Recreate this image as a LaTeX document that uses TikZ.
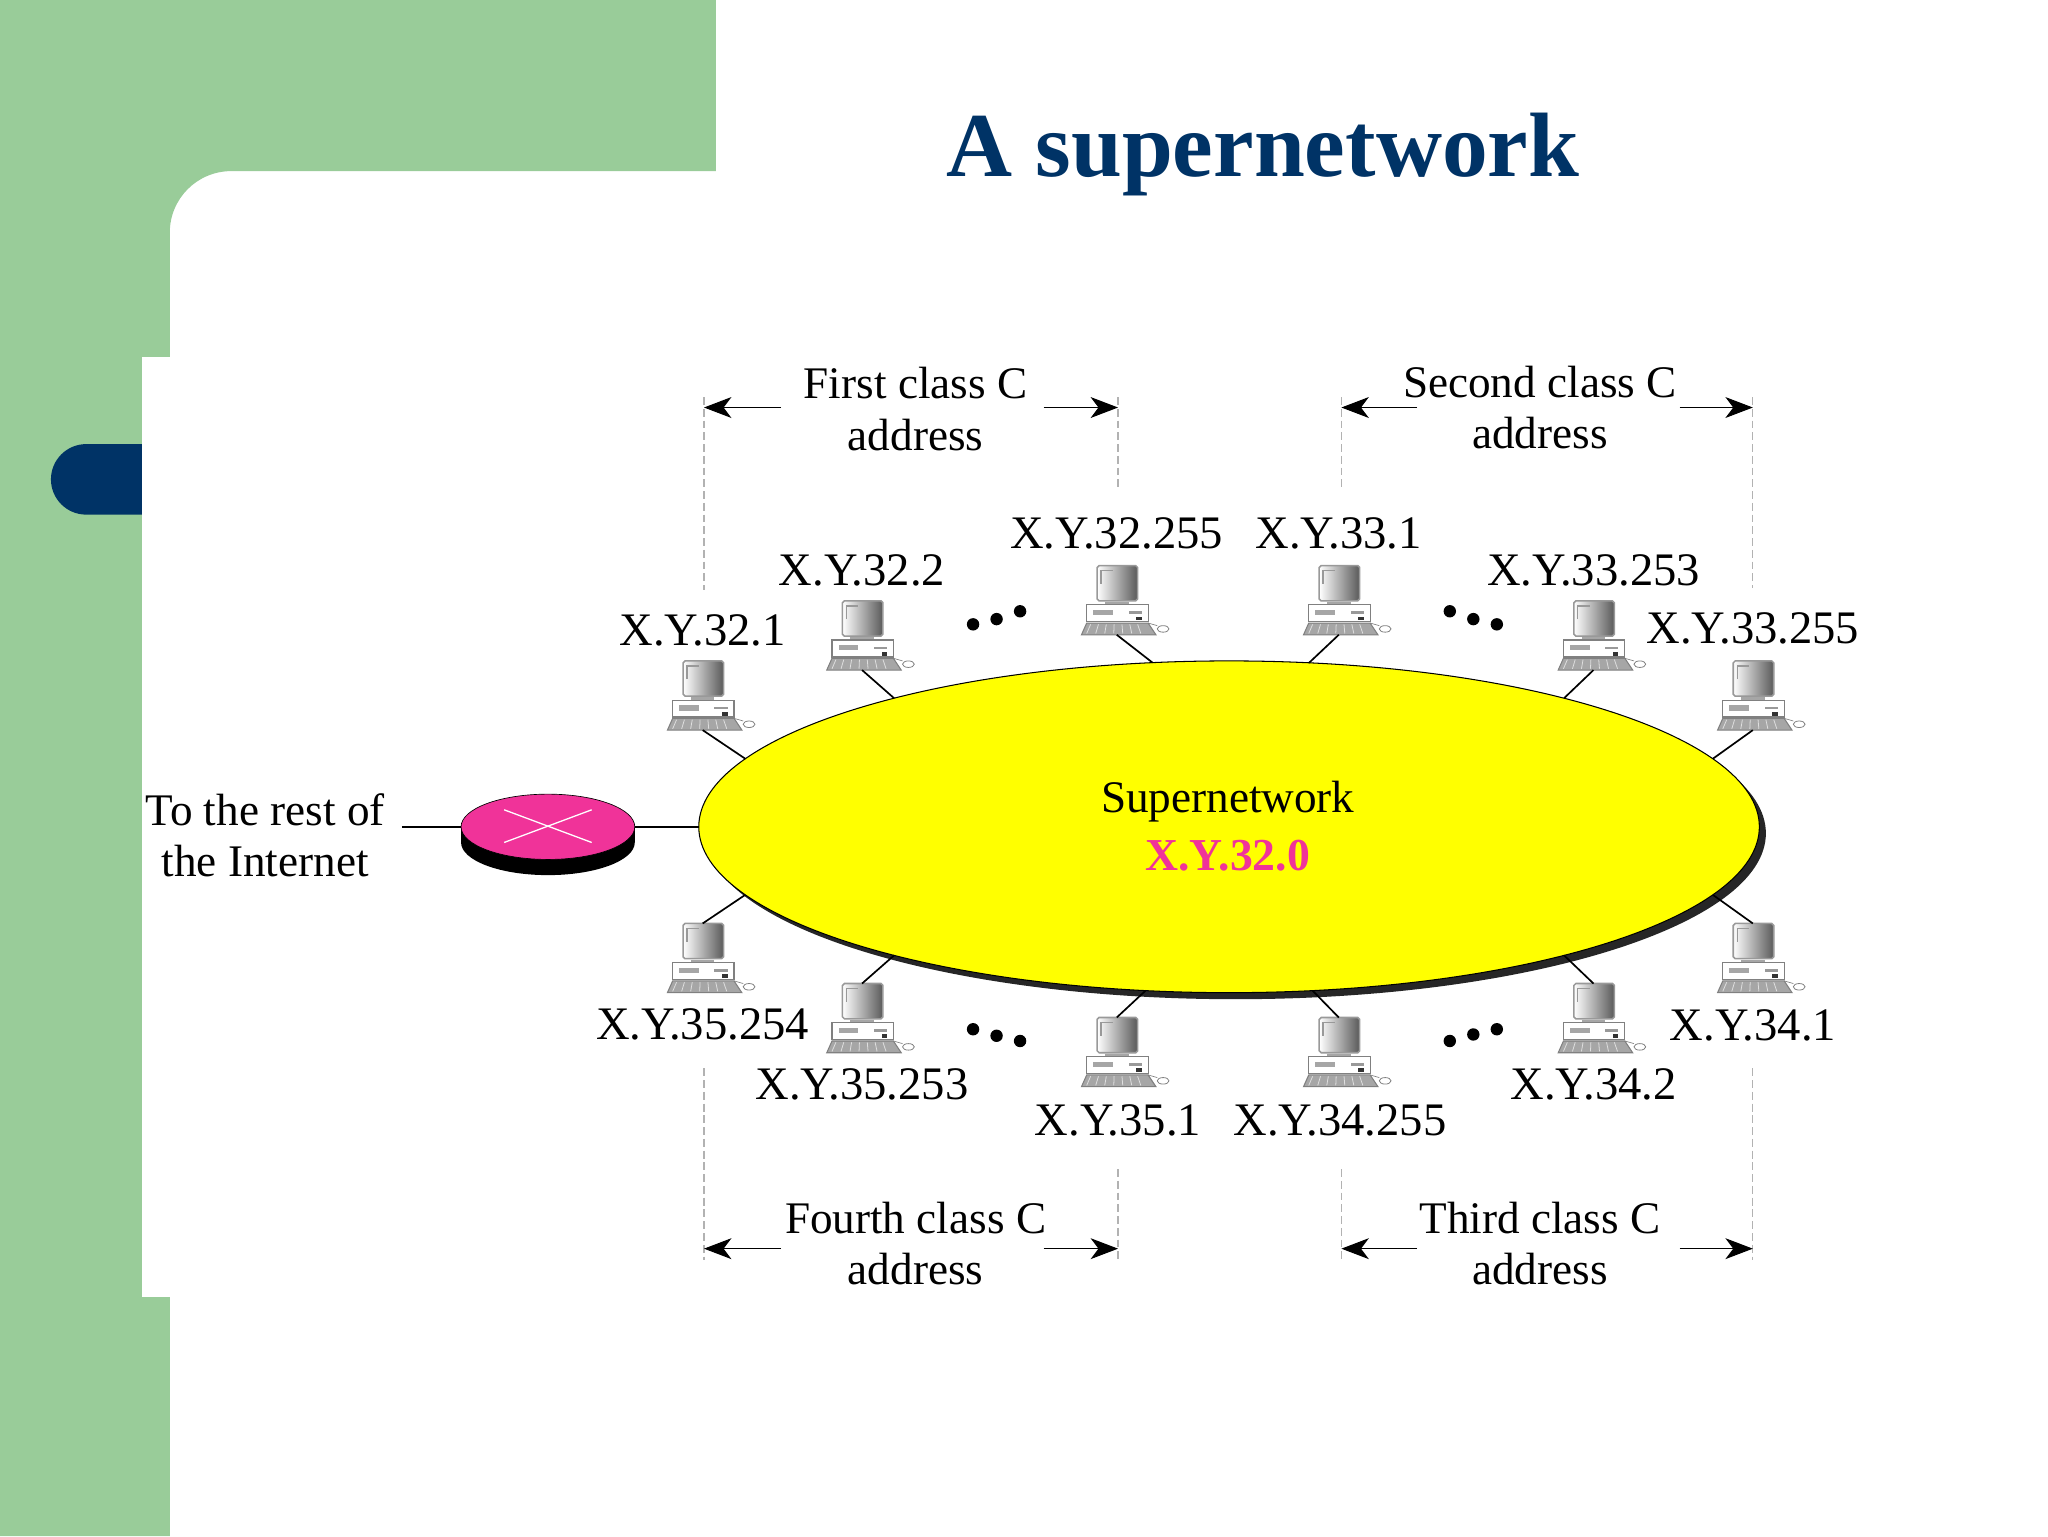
\documentclass[tikz,border=0pt]{standalone}
\usepackage{xcolor}
\usepackage{fontspec}
\setmainfont{Liberation Serif}
\usetikzlibrary{shapes.geometric,arrows.meta,positioning,calc}
\definecolor{slidegreen}{HTML}{99CC99}
\definecolor{navy}{HTML}{003366}
\definecolor{hotpink}{HTML}{F03399}
\definecolor{netyellow}{HTML}{FFFF00}
\tikzset{
    lbl/.style={inner sep=0pt, align=center, font=\fontsize{34.6}{39.5}\selectfont},
    addr/.style={inner sep=0pt, font=\fontsize{35.7}{40}\selectfont},
    dimdash/.style={gray!60, line width=1pt, dash pattern=on 6pt off 3pt},
    dimarrow/.style={line width=0.8pt, -{Stealth[length=21pt,width=16pt,inset=6pt]}},
    wire/.style={line width=1.3pt},
    dotmark/.style={circle, fill=black, inner sep=0pt, minimum size=9.5pt},
    pc/.pic={
        \draw[gray, fill=gray!70, line width=0.8pt] (-23,17) -- (24,17) -- (30,26) -- (-27,26) -- cycle;
        \foreach \k in {-20,-14,...,20} {\draw[gray!25, line width=0.6pt] (\k,18) -- (1.15*\k,25);}
        \draw[gray!80, shading=axis, left color=white, right color=black!65, rounded corners=1.5pt, line width=1.2pt] (-15,-27) rectangle (16,0);
        \draw[gray!80, line width=1pt] (-12,-13) -- (-12,-23) -- (-3,-23);
        \fill[gray!70] (-9,1) rectangle (9,3);
        \draw[gray, fill=white, line width=0.9pt] (-23,3) rectangle (24,16);
        \fill[gray!70] (-18,7) rectangle (-3,11);
        \fill[gray!80] (9,8) rectangle (19,10);
        \fill[black!80] (15,12) rectangle (19,15);
        \draw[gray, line width=0.5pt] (24,17) -- (31,19);
        \draw[gray, fill=white, line width=0.6pt] (35.5,21.5) ellipse[x radius=4.5, y radius=2.5];
        \coordinate (-top) at (0,-27);
        \coordinate (-bot) at (0,26);
    }
}
\begin{document}
\begin{tikzpicture}[x=1pt, y=-1pt]
    \useasboundingbox (0,0) rectangle (1568,1176);
    \fill[white] (0,0) rectangle (1568,1176);
    \fill[slidegreen] (0,0) -- (548,0) -- (548,131) [rounded corners=47pt] -- (130,131) [sharp corners] -- (130,1176) -- (0,1176) -- cycle;
    \fill[navy] (109,340) [rounded corners=27pt] -- (39,340) -- (39,394) [sharp corners] -- (109,394) -- cycle;
    \fill[white] (109,273) rectangle (131,993);

    \node[inner sep=0pt, text=navy, font=\fontsize{70}{80}\selectfont\bfseries] (title) at (967,118) {A supernetwork};

    \node[ellipse, fill=black!85, minimum width=812pt, minimum height=254pt, inner sep=0pt, outer sep=0pt] (shadow) at (946,638) {};
    \node[ellipse, draw, fill=netyellow, line width=0.8pt, minimum width=812pt, minimum height=254pt, inner sep=0pt, outer sep=0pt] (net) at (941,633) {};
    \node[lbl] (netname) at (940,614) {Supernetwork};
    \node[lbl, text=hotpink, font=\fontsize{35}{40}\selectfont\bfseries] (netaddr) at (940,655) {X.Y.32.0};

    \node[ellipse, fill=black, minimum width=133pt, minimum height=50pt, inner sep=0pt] (routerbase) at (419.5,645) {};
    \fill[black] (353,633) rectangle (486,645);
    \node[ellipse, draw=black, fill=hotpink, line width=0.5pt, minimum width=133pt, minimum height=50pt, inner sep=0pt, outer sep=0pt] (router) at (419.5,633) {};
    \draw[white, line width=1pt] (386,620) -- (453,645);
    \draw[white, line width=1pt] (386,645) -- (453,620);
    \node[lbl, inner xsep=13pt] (rest) at (203,639.5) {To the rest of\\the Internet};
    \draw[wire] (rest.east |- router.west) -- (router.west);
    \draw[wire] (router.east) -- (net.west);

    \pic (pa) at (538,533) {pc};
    \pic (pb) at (660,487) {pc};
    \pic (pc) at (855,460) {pc};
    \pic (pd) at (1025,460) {pc};
    \pic (pe) at (1220,487) {pc};
    \pic (pf) at (1342,533) {pc};
    \pic (qa) at (538,734) {pc};
    \pic (qb) at (660,780) {pc};
    \pic (qc) at (855,806) {pc};
    \pic (qd) at (1025,806) {pc};
    \pic (qe) at (1220,780) {pc};
    \pic (qf) at (1342,734) {pc};

    \draw[wire] (pa-bot) -- (net.172);
    \draw[wire] (pb-bot) -- (net.159);
    \draw[wire] (pc-bot) -- (net.115);
    \draw[wire] (pd-bot) -- (net.64);
    \draw[wire] (pe-bot) -- (net.21);
    \draw[wire] (pf-bot) -- (net.8);
    \draw[wire] (qa-top) -- (net.188);
    \draw[wire] (qb-top) -- (net.201);
    \draw[wire] (qc-top) -- (net.243);
    \draw[wire] (qd-top) -- (net.297);
    \draw[wire] (qe-top) -- (net.339);
    \draw[wire] (qf-top) -- (net.352);

    \node[addr] (la) at (538,483) {X.Y.32.1};
    \node[addr] (lb) at (660,437) {X.Y.32.2};
    \node[addr] (lc) at (855,408) {X.Y.32.255};
    \node[addr] (ld) at (1025,408) {X.Y.33.1};
    \node[addr] (le) at (1220,437) {X.Y.33.253};
    \node[addr] (lf) at (1342,481) {X.Y.33.255};
    \node[addr] (ma) at (538,784) {X.Y.35.254};
    \node[addr] (mb) at (660,830) {X.Y.35.253};
    \node[addr] (mc) at (856,858) {X.Y.35.1};
    \node[addr] (md) at (1026,858) {X.Y.34.255};
    \node[addr] (me) at (1220,830) {X.Y.34.2};
    \node[addr] (mf) at (1342,785) {X.Y.34.1};

    \node[dotmark] (d1) at (745,478) {};
    \node[dotmark] (d2) at (763,474) {};
    \node[dotmark] (d3) at (781,468) {};
    \node[dotmark] (d4) at (1110,468) {};
    \node[dotmark] (d5) at (1128,474) {};
    \node[dotmark] (d6) at (1146,478) {};
    \node[dotmark] (d7) at (745,788) {};
    \node[dotmark] (d8) at (763,793) {};
    \node[dotmark] (d9) at (781,797) {};
    \node[dotmark] (d10) at (1110,797) {};
    \node[dotmark] (d11) at (1128,792) {};
    \node[dotmark] (d12) at (1146,788) {};

    \node[lbl] (first) at (701,313) {First class C\\address};
    \node[lbl] (second) at (1179,312) {Second class C\\address};
    \node[lbl] (fourth) at (701,952) {Fourth class C\\address};
    \node[lbl] (third) at (1179,952) {Third class C\\address};

    \coordinate (ta) at (539,304);
    \coordinate (tb) at (539,452);
    \coordinate (tc) at (856,304);
    \coordinate (td) at (856,375);
    \coordinate (te) at (1027,304);
    \coordinate (tf) at (1027,375);
    \coordinate (tg) at (1342,304);
    \coordinate (th) at (1342,450);
    \coordinate (ba) at (539,818);
    \coordinate (bb) at (539,965);
    \coordinate (bc) at (856,895);
    \coordinate (bd) at (856,965);
    \coordinate (be) at (1027,895);
    \coordinate (bf) at (1027,965);
    \coordinate (bg) at (1342,818);
    \coordinate (bh) at (1342,965);
    \draw[dimdash] (ta) -- (tb);
    \draw[dimdash] (tc) -- (td);
    \draw[dimdash] (te) -- (tf);
    \draw[dimdash] (tg) -- (th);
    \draw[dimdash] (ba) -- (bb);
    \draw[dimdash] (bc) -- (bd);
    \draw[dimdash] (be) -- (bf);
    \draw[dimdash] (bg) -- (bh);

    \coordinate (s1) at (598,312);
    \coordinate (s2) at (799,312);
    \coordinate (s3) at (1085,312);
    \coordinate (s4) at (1286,312);
    \coordinate (s5) at (598,956);
    \coordinate (s6) at (799,956);
    \coordinate (s7) at (1085,956);
    \coordinate (s8) at (1286,956);
    \draw[dimarrow] (s1) -- (s1 -| ta);
    \draw[dimarrow] (s2) -- (s2 -| tc);
    \draw[dimarrow] (s3) -- (s3 -| te);
    \draw[dimarrow] (s4) -- (s4 -| tg);
    \draw[dimarrow] (s5) -- (s5 -| ba);
    \draw[dimarrow] (s6) -- (s6 -| bc);
    \draw[dimarrow] (s7) -- (s7 -| be);
    \draw[dimarrow] (s8) -- (s8 -| bg);
\end{tikzpicture}
\end{document}
